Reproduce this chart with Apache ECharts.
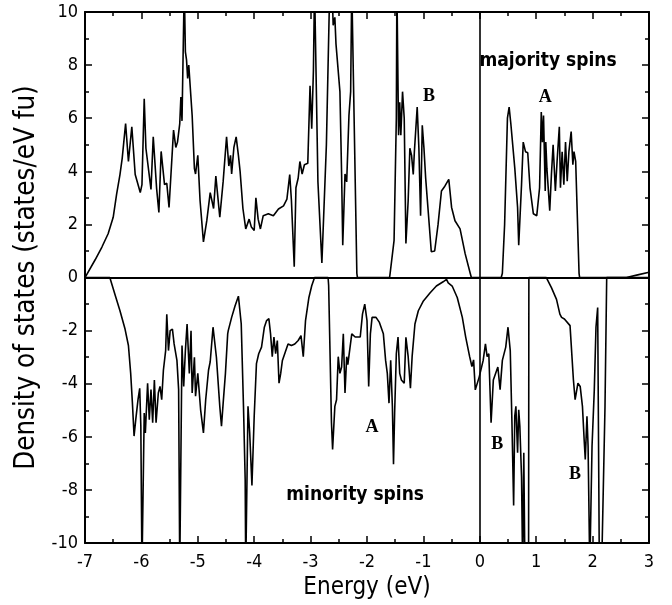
<!DOCTYPE html>
<html><head><meta charset="utf-8">
<script src="https://cdn.jsdelivr.net/npm/echarts@6/dist/echarts.min.js"></script>
<style>html,body{margin:0;padding:0;background:#fff}#c{width:672px;height:605px}</style>
</head><body><div id="c"></div>
<script>
// Majority-spin DOS (upper panel, positive values)
const majorityE = [-7.00,-6.97,-6.82,-6.70,-6.59,-6.50,-6.44,-6.38,-6.34,-6.28,-6.23,-6.17,-6.11,-6.02,-5.99,-5.95,-5.92,-5.89,-5.83,-5.79,-5.73,-5.69,-5.65,-5.59,-5.55,-5.51,-5.48,-5.43,-5.39,-5.36,-5.32,-5.30,-5.28,-5.24,-5.22,-5.20,-5.18,-5.16,-5.10,-5.06,-5.04,-5.00,-4.96,-4.90,-4.84,-4.78,-4.72,-4.68,-4.61,-4.55,-4.49,-4.45,-4.42,-4.40,-4.36,-4.32,-4.28,-4.25,-4.20,-4.15,-4.09,-4.05,-4.00,-3.97,-3.93,-3.89,-3.84,-3.75,-3.66,-3.57,-3.48,-3.42,-3.37,-3.34,-3.29,-3.26,-3.22,-3.19,-3.15,-3.11,-3.05,-3.01,-2.98,-2.95,-2.93,-2.90,-2.87,-2.80,-2.72,-2.66,-2.62,-2.60,-2.57,-2.55,-2.48,-2.45,-2.43,-2.39,-2.36,-2.32,-2.29,-2.27,-2.24,-2.18,-2.17,-1.60,-1.59,-1.52,-1.48,-1.47,-1.45,-1.44,-1.42,-1.40,-1.37,-1.34,-1.31,-1.27,-1.24,-1.21,-1.18,-1.16,-1.11,-1.08,-1.05,-1.02,-0.99,-0.96,-0.92,-0.86,-0.80,-0.74,-0.68,-0.62,-0.55,-0.50,-0.44,-0.35,-0.26,-0.17,-0.15,0.38,0.40,0.44,0.49,0.52,0.55,0.62,0.67,0.69,0.74,0.77,0.81,0.85,0.89,0.95,1.01,1.06,1.09,1.11,1.13,1.16,1.17,1.19,1.24,1.27,1.30,1.34,1.37,1.41,1.43,1.46,1.49,1.52,1.55,1.58,1.62,1.65,1.67,1.70,1.73,1.76,1.77,2.60,2.80,3.00];
const majorityDOS = [0,0.05,0.67,1.15,1.65,2.27,3.13,3.88,4.5,5.8,4.37,5.68,3.88,3.2,3.5,6.73,4.87,4.9,3.32,5.3,3.35,2.45,4.75,3.5,3.55,2.64,2.7,5.55,4.9,5.1,5.8,6.8,5.9,11,8.5,8.2,7.5,8.0,6.1,4.1,3.9,4.6,2.9,1.34,2.15,3.2,2.6,3.82,2.27,3.63,5.3,4.2,4.6,3.9,4.9,5.3,4.6,4.0,2.6,1.83,2.2,1.9,1.77,3.0,2.2,1.83,2.33,2.4,2.33,2.58,2.7,2.95,3.88,2.9,0.41,3.38,3.75,4.37,3.9,4.25,4.3,7.22,5.6,7.8,11,11,3.6,0.55,5,11,11,9.5,9.8,8.8,7.0,3.88,1.22,3.9,3.6,6.1,7.0,11,11,0.16,0,0,0.16,1.4,6,11,11,5.36,6.6,5.36,7.0,6.0,1.28,2.9,4.87,4.6,3.88,4.74,6.42,4.87,2.33,5.73,4.87,3.75,2.64,0.97,1.0,2.0,3.26,3.44,3.7,2.64,2.14,1.83,0.9,0.16,0,0,0.16,2.0,6.0,6.42,5.8,4.13,2.64,1.22,3.5,5.1,4.74,4.7,3.38,2.4,2.33,3.38,6.23,5.1,6.1,3.26,5.1,4.1,2.52,3.88,5.0,3.26,4.37,5.68,3.38,4.74,3.5,5.1,3.63,4.74,5.5,4.25,4.74,4.37,4.37,0.16,0,0,0.1,0.2];

// Minority-spin DOS (lower panel, negative values)
const minorityE = [-7.00,-6.56,-6.47,-6.38,-6.29,-6.23,-6.19,-6.16,-6.13,-6.10,-6.06,-6.03,-6.01,-5.99,-5.97,-5.95,-5.93,-5.89,-5.86,-5.83,-5.80,-5.77,-5.74,-5.70,-5.67,-5.64,-5.61,-5.57,-5.55,-5.52,-5.49,-5.45,-5.42,-5.37,-5.34,-5.32,-5.30,-5.28,-5.25,-5.22,-5.19,-5.15,-5.12,-5.10,-5.06,-5.04,-5.00,-4.95,-4.90,-4.86,-4.81,-4.78,-4.73,-4.67,-4.61,-4.58,-4.55,-4.51,-4.47,-4.46,-4.40,-4.34,-4.28,-4.23,-4.19,-4.16,-4.15,-4.12,-4.11,-4.08,-4.04,-4.00,-3.96,-3.92,-3.87,-3.82,-3.78,-3.74,-3.71,-3.68,-3.65,-3.62,-3.59,-3.56,-3.53,-3.50,-3.45,-3.40,-3.34,-3.28,-3.22,-3.17,-3.13,-3.09,-3.03,-2.98,-2.93,-2.69,-2.68,-2.66,-2.63,-2.61,-2.57,-2.54,-2.51,-2.48,-2.45,-2.42,-2.39,-2.36,-2.34,-2.27,-2.21,-2.12,-2.08,-2.04,-2.00,-1.97,-1.94,-1.91,-1.84,-1.78,-1.71,-1.67,-1.64,-1.61,-1.58,-1.55,-1.53,-1.51,-1.48,-1.45,-1.42,-1.39,-1.34,-1.31,-1.27,-1.23,-1.20,-1.15,-1.09,-1.00,-0.88,-0.77,-0.65,-0.59,-0.56,-0.53,-0.49,-0.40,-0.31,-0.25,-0.18,-0.14,-0.11,-0.08,-0.05,-0.01,0.06,0.10,0.13,0.16,0.20,0.24,0.28,0.32,0.36,0.40,0.46,0.50,0.54,0.57,0.60,0.62,0.64,0.67,0.69,0.71,0.74,0.76,0.78,0.80,0.865,0.87,1.18,1.27,1.36,1.42,1.45,1.50,1.60,1.66,1.69,1.74,1.78,1.82,1.85,1.87,1.90,1.92,1.95,1.97,1.99,2.03,2.06,2.09,2.12,2.16,2.22,2.25,3.00];
const minorityDOS = [0,0,-0.63,-1.25,-1.94,-2.56,-3.61,-4.7,-5.97,-5.35,-4.6,-4.17,-5.6,-11,-11,-5.1,-5.85,-3.98,-5.35,-4.22,-5.47,-3.86,-5.47,-4.35,-4.1,-4.6,-3.49,-2.75,-1.38,-2.75,-2.0,-1.94,-2.5,-3.12,-4.22,-11,-11,-2.56,-4.1,-2.75,-1.75,-3.61,-2.0,-4.35,-3.0,-4.47,-3.61,-4.98,-5.85,-4.6,-3.49,-3.17,-1.87,-3.0,-4.85,-5.6,-4.72,-3.61,-2.12,-2.0,-1.5,-1.07,-0.7,-1.74,-4.85,-7.6,-11,-11,-4.85,-5.85,-7.83,-5.22,-3.24,-2.87,-2.62,-1.87,-1.62,-1.55,-2.12,-2.98,-2.24,-2.87,-2.37,-3.98,-3.61,-3.12,-2.81,-2.5,-2.56,-2.5,-2.37,-2.19,-2.98,-1.62,-0.75,-0.31,0,0,-0.3,-2.37,-5.47,-6.47,-4.85,-4.6,-2.98,-3.61,-3.37,-2.12,-4.35,-2.98,-3.28,-2.12,-2.24,-2.24,-1.38,-1.0,-1.62,-4.1,-2.12,-1.5,-1.5,-1.69,-2.12,-3.12,-3.61,-4.73,-3.12,-4.85,-7.03,-5.1,-2.87,-2.24,-3.61,-3.86,-3.98,-2.25,-2.98,-4.17,-2.98,-1.75,-1.25,-0.88,-0.57,-0.32,-0.16,-0.07,-0.2,-0.14,-0.32,-0.75,-1.5,-2.24,-2.98,-3.35,-3.1,-4.23,-4.17,-3.74,-3.12,-2.5,-2.98,-2.87,-5.47,-3.86,-3.61,-3.37,-4.22,-3.12,-2.62,-1.87,-2.75,-5.47,-8.58,-5.22,-4.85,-6.6,-4.98,-5.6,-7.5,-11,-6.6,-11,-11,0,0,-0.38,-0.82,-1.38,-1.5,-1.56,-1.81,-3.86,-4.6,-3.98,-4.1,-4.85,-6.1,-6.85,-5.22,-6.35,-11,-11,-6.35,-4.23,-1.87,-1.13,-11,-11,-4.85,0,0];

// Axis ticks
const xTicks = [-7,-6,-5,-4,-3,-2,-1,0,1,2,3];
const yTicks = [-10,-8,-6,-4,-2,0,2,4,6,8,10];

// Annotations
const annoText = ['majority spins','B','A','minority spins','A','B','B'];
const annoE    = [1.21,-0.90,1.16,-2.21,-1.91,0.31,1.69];
const annoV    = [8.14,6.82,6.78,-8.18,-5.63,-6.28,-7.40];
const annoKind = ['sans','serif','serif','sans','serif','serif','serif'];

const SANS = "'Liberation Sans Narrow','DejaVu Sans Condensed','Liberation Sans',Arial,sans-serif";
const SERIF = "'Liberation Serif','Times New Roman',serif";

const zip = (a,b)=>a.map((v,i)=>[v,b[i]]);

const chart = echarts.init(document.getElementById('c'), null, {renderer:'canvas'});
const lineCol = '#000';
const axisCommon = {
  axisLine:{show:true,onZero:false,lineStyle:{color:lineCol,width:2}},
  axisTick:{show:true,inside:true,length:7,lineStyle:{color:lineCol,width:1.5}},
  minorTick:{show:true,splitNumber:2,length:4,lineStyle:{color:lineCol,width:1.5}},
  splitLine:{show:false}
};
const option = {
  animation:false,
  backgroundColor:'#fff',
  grid:{left:85,right:23,top:12,bottom:56,containLabel:false},
  xAxis:[
    Object.assign({}, axisCommon, {type:'value',position:'bottom',min:xTicks[0],max:xTicks[xTicks.length-1],interval:1,
      name:'Energy (eV)',nameLocation:'middle',nameGap:21,
      nameTextStyle:{fontFamily:SANS,fontSize:24,color:lineCol,verticalAlign:'top'},
      axisLabel:{show:true,margin:10,fontFamily:SANS,fontSize:18,color:lineCol}}),
    Object.assign({}, axisCommon, {type:'value',position:'top',min:xTicks[0],max:xTicks[xTicks.length-1],interval:1,
      axisLabel:{show:false}})
  ],
  yAxis:[
    Object.assign({}, axisCommon, {type:'value',position:'left',min:yTicks[0],max:yTicks[yTicks.length-1],interval:2,
      name:'Density of states (states/eV fu)',nameLocation:'middle',nameGap:35,
      nameTextStyle:{fontFamily:SANS,fontSize:27.5,color:lineCol},
      axisLabel:{show:true,margin:7,fontFamily:SANS,fontSize:18,color:lineCol}}),
    Object.assign({}, axisCommon, {type:'value',position:'right',min:yTicks[0],max:yTicks[yTicks.length-1],interval:2,
      axisLabel:{show:false}})
  ],
  series:[
    {type:'line',name:'majority',data:zip(majorityE,majorityDOS),showSymbol:false,symbol:'none',clip:true,
     lineStyle:{color:lineCol,width:1.6},z:3,
     markLine:{silent:true,symbol:'none',label:{show:false},
       lineStyle:{color:lineCol,width:1.6,type:'solid'},
       data:[{xAxis:0},{yAxis:0,lineStyle:{width:2.2}}]}},
    {type:'line',name:'minority',data:zip(minorityE,minorityDOS),showSymbol:false,symbol:'none',clip:true,
     lineStyle:{color:lineCol,width:1.6},z:3},
    {type:'scatter',name:'labels',symbolSize:0,z:5,silent:true,
     itemStyle:{opacity:1,color:lineCol},
     data:annoText.map((t,i)=>({value:[annoE[i],annoV[i]],
       label:{show:true,position:'inside',formatter:t,color:lineCol,opacity:1,
         fontFamily: annoKind[i]==='sans'?SANS:SERIF,
         fontWeight:'bold',
         fontSize: annoKind[i]==='sans'?19:18}}))}
  ]
};
chart.setOption(option);
</script>
</body></html>
